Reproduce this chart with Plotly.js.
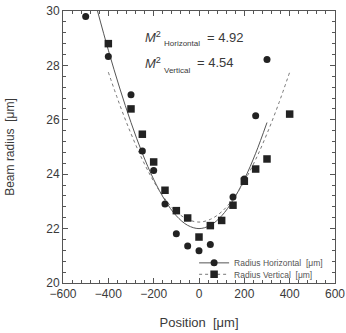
<!DOCTYPE html>
<html>
<head>
<meta charset="utf-8">
<script src="https://cdn.plot.ly/plotly-3.0.1.min.js"></script>
<style>html,body{margin:0;padding:0;background:#fff;}#chart{width:346px;height:333px;}</style>
</head>
<body>
<div id="chart"></div>
<script>
// Measured data
const posH = [-500, -400, -300, -250, -200, -150, -100, -50, 0, 50, 150, 200, 250, 300];
const radH = [29.8, 28.33, 26.92, 24.85, 24.14, 22.9, 21.81, 21.36, 21.19, 21.42, 23.16, 23.82, 26.15, 28.22];
const posV = [-400, -300, -250, -200, -150, -100, -50, 0, 50, 100, 150, 200, 250, 300, 400];
const radV = [28.8, 26.4, 25.47, 24.45, 23.41, 22.66, 22.39, 21.69, 22.11, 22.3, 22.86, 23.74, 24.19, 24.56, 26.21];
// Fit curves
const fitPosH = [-450, -400, -350, -300, -250, -200, -150, -100, -50, 0, 50, 100, 150, 200, 250, 300];
const fitRadH = [30.07, 28.56, 27.17, 25.9, 24.77, 23.81, 23.04, 22.47, 22.12, 22.0, 22.12, 22.47, 23.04, 23.81, 24.77, 25.9];
const fitPosV = [-400, -350, -300, -250, -200, -150, -100, -50, 0, 50, 100, 150, 200, 250, 300, 350, 400];
const fitRadV = [27.75, 26.56, 25.49, 24.54, 23.74, 23.09, 22.62, 22.34, 22.24, 22.34, 22.62, 23.09, 23.74, 24.54, 25.49, 26.56, 27.75];
const nameH = 'Radius Horizontal  [μm]';
const nameV = 'Radius Vertical  [μm]';
const m2H = '4.92';
const m2V = '4.54';

const FONT = '"Liberation Sans", Arial, sans-serif';
const TXT = '#3a3a3a';
const MK = '#222222';

const traces = [
  {x: fitPosH, y: fitRadH, mode: 'lines', line: {color: '#555', width: 1, shape: 'spline'}, showlegend: false, hoverinfo: 'skip'},
  {x: fitPosV, y: fitRadV, mode: 'lines', line: {color: '#777', width: 1, dash: '3px,3px', shape: 'spline'}, showlegend: false, hoverinfo: 'skip'},
  {x: posH, y: radH, mode: 'markers', marker: {symbol: 'circle', size: 7, color: MK}, showlegend: false},
  {x: posV, y: radV, mode: 'markers', marker: {symbol: 'square', size: 7.5, color: MK}, showlegend: false},
  // legend entries
  {x: [null], y: [null], name: nameH, mode: 'lines+markers', line: {color: '#555', width: 1}, marker: {symbol: 'circle', size: 7, color: MK}, legend: 'legend'},
  {x: [null], y: [null], name: nameV, mode: 'lines+markers', line: {color: '#777', width: 1, dash: '3px,3px'}, marker: {symbol: 'square', size: 7.5, color: MK}, legend: 'legend2'}
];

const axisCommon = {
  showline: true, linecolor: '#555', linewidth: 1, mirror: 'allticks',
  ticks: 'inside', ticklen: 5, tickwidth: 1, tickcolor: '#555',
  showgrid: false, zeroline: false,
  tickfont: {family: FONT, size: 12, color: TXT}
};

const legendCommon = {
  xanchor: 'left', yanchor: 'middle', bgcolor: 'rgba(0,0,0,0)', borderwidth: 0,
  font: {family: FONT, size: 8.5, color: '#555'}, itemwidth: 30, tracegroupgap: 0
};

const layout = {
  width: 346, height: 333,
  margin: {l: 63, r: 11, t: 11, b: 50},
  paper_bgcolor: '#fff', plot_bgcolor: '#fff',
  font: {family: FONT, color: TXT},
  xaxis: Object.assign({}, axisCommon, {
    range: [-600, 600], dtick: 200, tick0: 0,
    minor: {dtick: 40, ticks: 'inside', ticklen: 3, tickcolor: '#555'},
    title: {text: 'Position  [μm]', font: {family: FONT, size: 13, color: TXT}, standoff: 17}
  }),
  yaxis: Object.assign({}, axisCommon, {
    range: [20, 30], dtick: 2, tick0: 20,
    minor: {dtick: 0.4, ticks: 'inside', ticklen: 3, tickcolor: '#555'},
    title: {text: 'Beam radius  [μm]', font: {family: FONT, size: 12, color: TXT}, standoff: 29}
  }),
  legend: Object.assign({}, legendCommon, {x: 0.482, y: 0.074}),
  legend2: Object.assign({}, legendCommon, {x: 0.482, y: 0.032}),
  annotations: [
    {xref: 'paper', yref: 'paper', x: 0.294, y: 0.904, xanchor: 'left', yanchor: 'middle', showarrow: false,
     text: '<i>M</i><sup>2</sup>', font: {family: FONT, size: 13, color: TXT}},
    {xref: 'paper', yref: 'paper', x: 0.364, y: 0.879, xanchor: 'left', yanchor: 'middle', showarrow: false,
     text: 'Horizontal', font: {family: FONT, size: 8, color: TXT}},
    {xref: 'paper', yref: 'paper', x: 0.522, y: 0.904, xanchor: 'left', yanchor: 'middle', showarrow: false,
     text: '= ' + m2H, font: {family: FONT, size: 13, color: TXT}},
    {xref: 'paper', yref: 'paper', x: 0.294, y: 0.809, xanchor: 'left', yanchor: 'middle', showarrow: false,
     text: '<i>M</i><sup>2</sup>', font: {family: FONT, size: 13, color: TXT}},
    {xref: 'paper', yref: 'paper', x: 0.364, y: 0.783, xanchor: 'left', yanchor: 'middle', showarrow: false,
     text: 'Vertical', font: {family: FONT, size: 8, color: TXT}},
    {xref: 'paper', yref: 'paper', x: 0.485, y: 0.809, xanchor: 'left', yanchor: 'middle', showarrow: false,
     text: '= ' + m2V, font: {family: FONT, size: 13, color: TXT}}
  ]
};

Plotly.newPlot('chart', traces, layout, {displayModeBar: false, staticPlot: true});
</script>
</body>
</html>
